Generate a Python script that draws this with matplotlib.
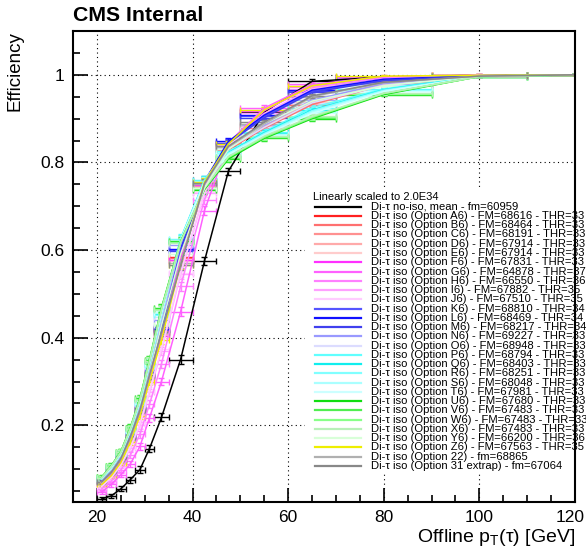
import matplotlib
matplotlib.use('Agg')
import matplotlib.pyplot as plt
from matplotlib.lines import Line2D
from matplotlib.patches import Rectangle
from matplotlib.ticker import MultipleLocator, FuncFormatter

plt.rcParams['font.family'] = ['Liberation Sans', 'DejaVu Sans']
plt.rcParams['mathtext.default'] = 'regular'

W, H = 586, 549

# bin centres and half widths in offline pT
pt_bins = [21, 23, 25, 27, 29, 31, 33.5, 37.5, 42.5, 47.5, 55, 65, 80, 100, 120]
pt_lo = [1, 1, 1, 1, 1, 1, 1.5, 2.5, 2.5, 2.5, 5, 5, 10, 10, 10]
pt_hi = [1, 1, 1, 1, 1, 1, 1.5, 2.5, 2.5, 2.5, 5, 5, 10, 10, 10]
eff_err = [0.004, 0.005, 0.006, 0.007, 0.008, 0.009, 0.009, 0.01, 0.01, 0.008, 0.006, 0.005, 0.003, 0.002, 0.001]

eff_noiso = [0.032, 0.039, 0.055, 0.076, 0.099, 0.147, 0.218, 0.350, 0.575, 0.780, 0.915, 0.985, 0.995, 0.999, 1.0]
eff_A6 = [0.072, 0.094, 0.126, 0.176, 0.238, 0.320, 0.420, 0.585, 0.750, 0.830, 0.880, 0.935, 0.978, 0.997, 1.0]
eff_B6 = [0.071, 0.093, 0.125, 0.175, 0.236, 0.318, 0.416, 0.582, 0.748, 0.829, 0.878, 0.932, 0.977, 0.997, 1.0]
eff_C6 = [0.070, 0.092, 0.123, 0.172, 0.233, 0.314, 0.412, 0.578, 0.746, 0.830, 0.882, 0.936, 0.978, 0.997, 1.0]
eff_D6 = [0.069, 0.090, 0.121, 0.170, 0.230, 0.311, 0.408, 0.575, 0.745, 0.832, 0.885, 0.940, 0.980, 0.997, 1.0]
eff_E6 = [0.069, 0.090, 0.121, 0.169, 0.229, 0.310, 0.406, 0.574, 0.744, 0.832, 0.886, 0.941, 0.980, 0.997, 1.0]
eff_F6 = [0.067, 0.088, 0.119, 0.168, 0.228, 0.308, 0.405, 0.578, 0.748, 0.840, 0.918, 0.975, 0.995, 0.999, 1.0]
eff_G6 = [0.048, 0.065, 0.087, 0.112, 0.152, 0.217, 0.300, 0.459, 0.690, 0.845, 0.924, 0.978, 0.996, 0.999, 1.0]
eff_H6 = [0.055, 0.073, 0.098, 0.132, 0.180, 0.248, 0.340, 0.517, 0.715, 0.842, 0.920, 0.972, 0.993, 0.999, 1.0]
eff_I6 = [0.060, 0.080, 0.108, 0.148, 0.200, 0.275, 0.370, 0.545, 0.730, 0.840, 0.912, 0.968, 0.990, 0.999, 1.0]
eff_J6 = [0.061, 0.081, 0.110, 0.150, 0.203, 0.279, 0.374, 0.548, 0.732, 0.838, 0.908, 0.965, 0.989, 0.999, 1.0]
eff_K6 = [0.074, 0.095, 0.127, 0.179, 0.240, 0.322, 0.425, 0.600, 0.755, 0.845, 0.905, 0.962, 0.988, 0.998, 1.0]
eff_L6 = [0.073, 0.093, 0.125, 0.176, 0.236, 0.318, 0.420, 0.603, 0.757, 0.848, 0.908, 0.965, 0.990, 0.998, 1.0]
eff_M6 = [0.072, 0.092, 0.123, 0.174, 0.234, 0.316, 0.418, 0.598, 0.754, 0.844, 0.902, 0.960, 0.987, 0.998, 1.0]
eff_N6 = [0.076, 0.099, 0.131, 0.184, 0.247, 0.332, 0.440, 0.612, 0.758, 0.836, 0.885, 0.942, 0.980, 0.997, 1.0]
eff_O6 = [0.077, 0.100, 0.133, 0.186, 0.250, 0.336, 0.448, 0.618, 0.759, 0.832, 0.880, 0.936, 0.976, 0.997, 1.0]
eff_P6 = [0.079, 0.104, 0.136, 0.190, 0.255, 0.342, 0.458, 0.626, 0.760, 0.825, 0.870, 0.925, 0.968, 0.997, 1.0]
eff_Q6 = [0.078, 0.103, 0.135, 0.188, 0.253, 0.340, 0.455, 0.624, 0.758, 0.822, 0.868, 0.920, 0.966, 0.997, 1.0]
eff_R6 = [0.078, 0.102, 0.134, 0.187, 0.252, 0.338, 0.452, 0.622, 0.757, 0.821, 0.866, 0.918, 0.965, 0.996, 1.0]
eff_S6 = [0.079, 0.104, 0.136, 0.189, 0.254, 0.341, 0.456, 0.623, 0.756, 0.820, 0.864, 0.915, 0.963, 0.996, 1.0]
eff_T6 = [0.079, 0.104, 0.136, 0.190, 0.255, 0.342, 0.458, 0.622, 0.755, 0.818, 0.862, 0.912, 0.962, 0.996, 1.0]
eff_U6 = [0.082, 0.108, 0.140, 0.195, 0.262, 0.350, 0.468, 0.620, 0.738, 0.808, 0.855, 0.900, 0.955, 0.996, 1.0]
eff_V6 = [0.081, 0.107, 0.139, 0.193, 0.260, 0.347, 0.465, 0.618, 0.740, 0.811, 0.857, 0.902, 0.957, 0.996, 1.0]
eff_W6 = [0.081, 0.107, 0.139, 0.193, 0.260, 0.347, 0.465, 0.618, 0.741, 0.812, 0.858, 0.903, 0.957, 0.996, 1.0]
eff_X6 = [0.080, 0.106, 0.138, 0.192, 0.258, 0.346, 0.463, 0.617, 0.742, 0.813, 0.860, 0.905, 0.958, 0.996, 1.0]
eff_Y6 = [0.070, 0.093, 0.124, 0.173, 0.236, 0.318, 0.428, 0.590, 0.742, 0.830, 0.888, 0.940, 0.975, 0.997, 1.0]
eff_Z6 = [0.065, 0.085, 0.115, 0.162, 0.222, 0.300, 0.395, 0.567, 0.755, 0.842, 0.920, 0.975, 0.997, 0.999, 1.0]
eff_22 = [0.070, 0.092, 0.123, 0.172, 0.233, 0.313, 0.410, 0.570, 0.750, 0.835, 0.888, 0.950, 0.982, 0.997, 1.0]
eff_31 = [0.071, 0.093, 0.124, 0.174, 0.235, 0.315, 0.412, 0.565, 0.752, 0.837, 0.892, 0.952, 0.983, 0.997, 1.0]

series = [eff_noiso, eff_A6, eff_B6, eff_C6, eff_D6, eff_E6, eff_F6, eff_G6, eff_H6,
          eff_I6, eff_J6, eff_K6, eff_L6, eff_M6, eff_N6, eff_O6, eff_P6, eff_Q6,
          eff_R6, eff_S6, eff_T6, eff_U6, eff_V6, eff_W6, eff_X6, eff_Y6, eff_Z6,
          eff_22, eff_31]

labels = ['Di-τ no-iso, mean - fm=60959',
          'Di-τ iso (Option A6) - FM=68616 - THR=33',
          'Di-τ iso (Option B6) - FM=68464 - THR=33',
          'Di-τ iso (Option C6) - FM=68191 - THR=33',
          'Di-τ iso (Option D6) - FM=67914 - THR=33',
          'Di-τ iso (Option E6) - FM=67914 - THR=33',
          'Di-τ iso (Option F6) - FM=67831 - THR=33',
          'Di-τ iso (Option G6) - FM=64878 - THR=37',
          'Di-τ iso (Option H6) - FM=66550 - THR=36',
          'Di-τ iso (Option I6) - FM=67882 - THR=35',
          'Di-τ iso (Option J6) - FM=67510 - THR=35',
          'Di-τ iso (Option K6) - FM=68810 - THR=34',
          'Di-τ iso (Option L6) - FM=68469 - THR=34',
          'Di-τ iso (Option M6) - FM=68217 - THR=34',
          'Di-τ iso (Option N6) - FM=69227 - THR=33',
          'Di-τ iso (Option O6) - FM=68948 - THR=33',
          'Di-τ iso (Option P6) - FM=68794 - THR=33',
          'Di-τ iso (Option Q6) - FM=68403 - THR=33',
          'Di-τ iso (Option R6) - FM=68251 - THR=33',
          'Di-τ iso (Option S6) - FM=68048 - THR=33',
          'Di-τ iso (Option T6) - FM=67981 - THR=33',
          'Di-τ iso (Option U6) - FM=67680 - THR=33',
          'Di-τ iso (Option V6) - FM=67483 - THR=33',
          'Di-τ iso (Option W6) - FM=67483 - THR=33',
          'Di-τ iso (Option X6) - FM=67483 - THR=33',
          'Di-τ iso (Option Y6) - FM=66200 - THR=36',
          'Di-τ iso (Option Z6) - FM=67563 - THR=35',
          'Di-τ iso (Option 22) - fm=68865',
          'Di-τ iso (Option 31 extrap) - fm=67064']

colors = ['#000000',
          '#ff2020', '#ff7070', '#ff9090', '#ffaaaa', '#ffcccc',
          '#ff30ff', '#ff60ff', '#ff80ff', '#ffa0ff', '#ffccff',
          '#5555ff', '#1010ff', '#4040ee', '#9999ff', '#dcdcff',
          '#60ffff', '#10eeee', '#80ffff', '#aaffff', '#ccffff',
          '#10dd10', '#50ee50', '#88ff88', '#b8f0b8', '#d8ffd8',
          '#eeee00', '#b0b0b0', '#888888']

fig = plt.figure(figsize=(W / 100, H / 100), dpi=100)
ax = fig.add_axes([73 / W, 1 - 502 / H, (575 - 73) / W, (502 - 31) / H])

for eff, col in zip(series, colors):
    ax.errorbar(pt_bins, eff, xerr=[pt_lo, pt_hi], yerr=eff_err, color=col,
                lw=1.1, elinewidth=1.0, capsize=2, capthick=1.0)

ax.set_xlim(15, 120)
ax.set_ylim(0.025, 1.1)
ax.xaxis.set_major_locator(MultipleLocator(20))
ax.xaxis.set_minor_locator(MultipleLocator(5))
ax.yaxis.set_major_locator(MultipleLocator(0.2))
ax.yaxis.set_minor_locator(MultipleLocator(0.05))
# the last x label ("120") is placed by hand below so it is not cut at the edge
ax.xaxis.set_major_formatter(FuncFormatter(lambda v, p: '' if v > 119 else '%d' % v))
ax.yaxis.set_major_formatter(FuncFormatter(lambda v, p: '1' if abs(v - 1) < 1e-6 else '%.1f' % v))
ax.tick_params(axis='both', which='both', direction='in', top=False, right=False, labelsize=12.5)
ax.tick_params(axis='y', which='major', length=11, width=1.2, pad=6)
ax.tick_params(axis='y', which='minor', length=5, width=1.2)
ax.tick_params(axis='x', which='major', length=10, width=1.2, pad=6)
ax.tick_params(axis='x', which='minor', length=5, width=1.2)
for sp in ax.spines.values():
    sp.set_linewidth(1.5)
ax.grid(True, which='major', color='black', linestyle=(0, (1, 3)), linewidth=0.8)
fig.text(585 / W, 1 - 510.5 / H, '120', fontsize=12.5, ha='right', va='top')

ax.set_ylabel('Efficiency', fontsize=13.5, ha='right')
ax.yaxis.set_label_coords(-0.098, 1.0)
ax.set_xlabel('Offline p$_{T}$(τ) [GeV]', fontsize=14, ha='right')
ax.xaxis.set_label_coords(1.0, -0.054)
ax.text(0.0, 1.021, 'CMS Internal', transform=ax.transAxes, fontsize=15.3,
        fontweight='bold', va='baseline', ha='left')

# legend, drawn the way ROOT packs it
fig.add_artist(Rectangle((305 / W, 1 - 472 / H), (572 - 305) / W, (472 - 190) / H,
                         transform=fig.transFigure, facecolor='white', edgecolor='none', zorder=2))
fig.text(312.7 / W, 1 - 197 / H, 'Linearly scaled to 2.0E34', fontsize=8.0, va='center', zorder=3)
for i, (lab, col) in enumerate(zip(labels, colors)):
    yy = 1 - (206.7 + i * 9.26) / H
    fig.add_artist(Line2D([315 / W, 361 / W], [yy, yy], transform=fig.transFigure,
                          color=col, lw=1.6, zorder=3))
    fig.text(370.7 / W, yy, lab, fontsize=8.1, va='center', zorder=3)

fig.savefig('out.png', dpi=100)
